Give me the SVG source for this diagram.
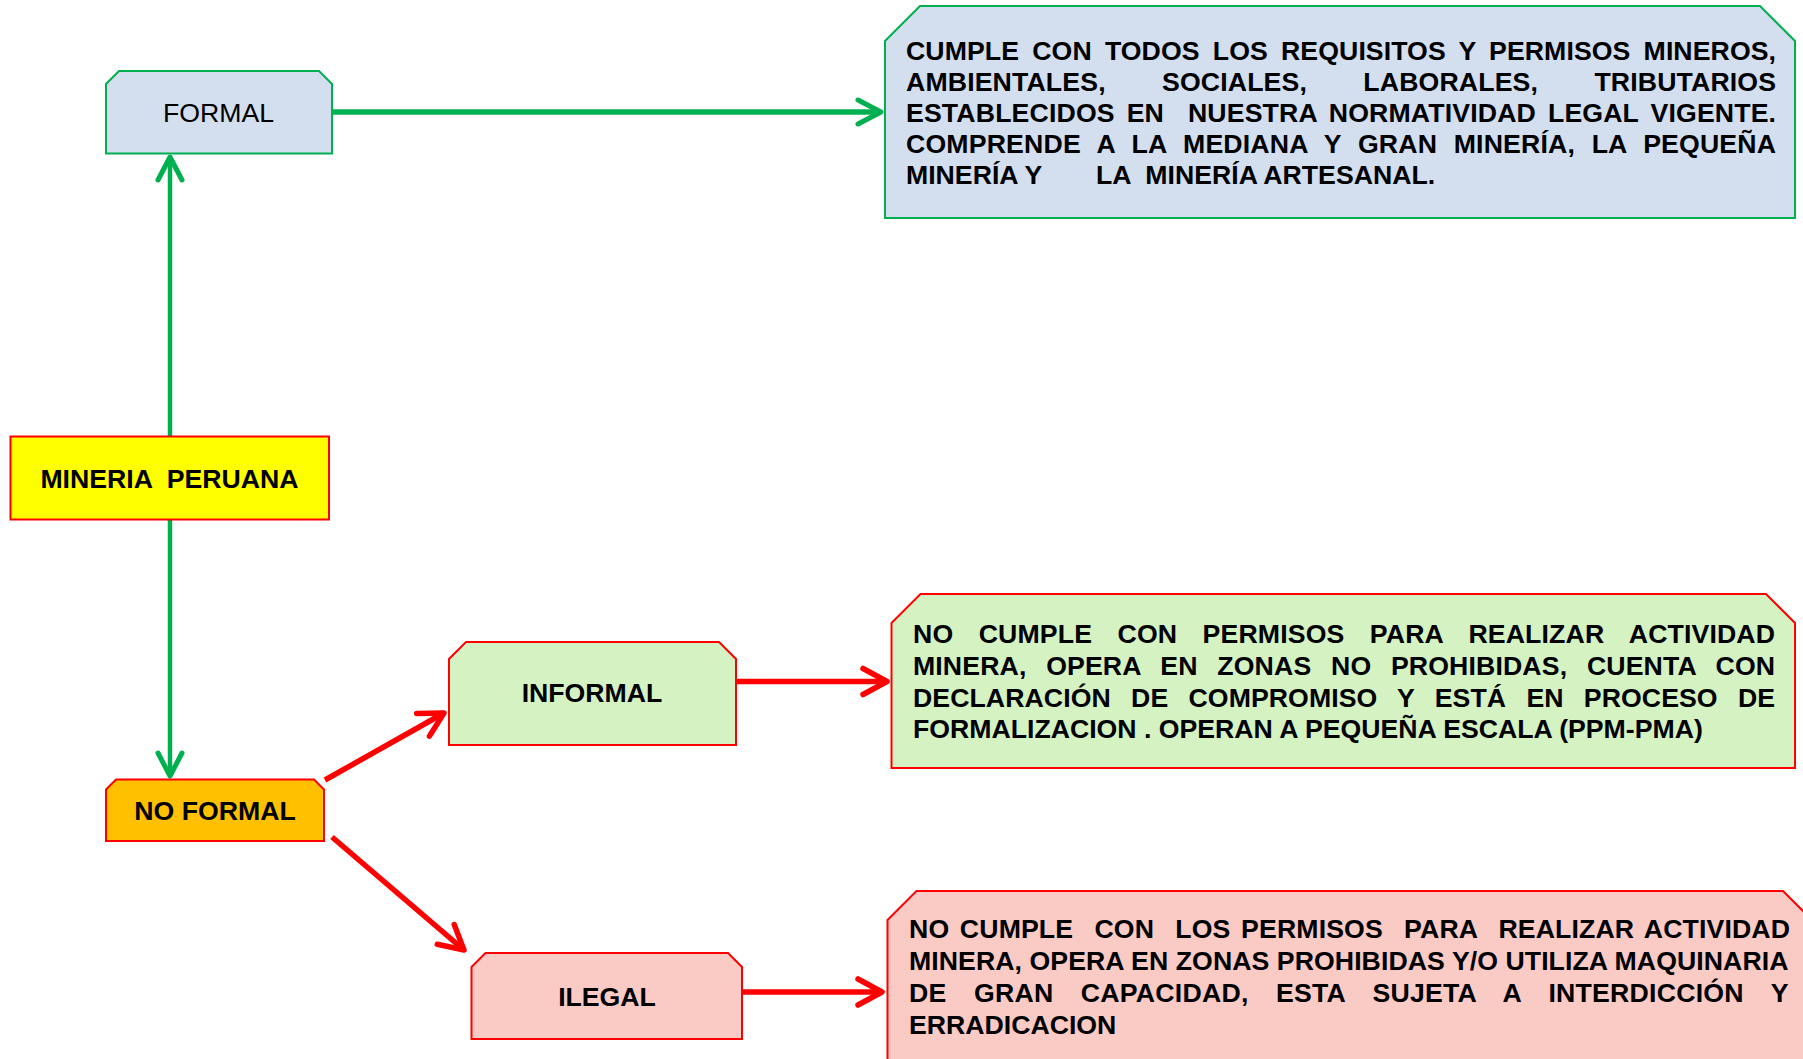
<svg xmlns="http://www.w3.org/2000/svg" width="1803" height="1059" viewBox="0 0 1803 1059">
<style>
.t{font-family:"Liberation Sans",Arial,sans-serif;font-size:26.67px;fill:#000}
.b{font-weight:bold}
.c{text-anchor:middle}
.gs{stroke:#00B050;stroke-width:2}
.rs{stroke:#FF0000;stroke-width:2}
.gl{stroke:#00B050;fill:none}
.rl{stroke:#FF0000;fill:none;stroke-width:5.5}
</style>
<defs>
<marker id="ag" markerUnits="userSpaceOnUse" viewBox="-30 -20 36 40" refX="0" refY="0" markerWidth="36" markerHeight="40" orient="auto" overflow="visible">
<path d="M-23,-12 L0,0 L-23,12" fill="none" stroke="#00B050" stroke-width="5" stroke-linecap="round" stroke-linejoin="round"/>
</marker>
<marker id="ar" markerUnits="userSpaceOnUse" viewBox="-30 -20 36 40" refX="0" refY="0" markerWidth="36" markerHeight="40" orient="auto" overflow="visible">
<path d="M-24,-13 L0,0 L-24,13" fill="none" stroke="#FF0000" stroke-width="5.5" stroke-linecap="round" stroke-linejoin="round"/>
</marker>
</defs>
<rect width="1803" height="1059" fill="#FFFFFF"/>

<g id="connectors">
<path class="gl" stroke-width="4.5" d="M170,436 L170,157" marker-end="url(#ag)"/>
<path class="gl" stroke-width="4.5" d="M170,520 L170,776" marker-end="url(#ag)"/>
<path class="gl" stroke-width="5.5" d="M332,112 L881,112" marker-end="url(#ag)"/>
<path class="rl" d="M325,780 L444,713" marker-end="url(#ar)"/>
<path class="rl" d="M332,837 L464,950" marker-end="url(#ar)"/>
<path class="rl" d="M736,681.5 L887,681.5" marker-end="url(#ar)"/>
<path class="rl" d="M742,992 L882,992" marker-end="url(#ar)"/>
</g>

<g id="node-formal">
<path class="gs" fill="#D3DEEE" d="M106,84 L119,71 L319,71 L332,84 L332,153.5 L106,153.5 Z"/>
<text class="t c" x="218.5" y="121.7">FORMAL</text>
</g>

<g id="node-formal-desc">
<path class="gs" fill="#D3DEEE" d="M885,41 L920,6 L1760,6 L1795,41 L1795,218 L885,218 Z"/>
<text class="t b" x="906" y="59.5" style="word-spacing:5.67px" textLength="870" lengthAdjust="spacing">CUMPLE CON TODOS LOS REQUISITOS Y PERMISOS MINEROS,</text>
<text class="t b" x="906" y="90.7" style="word-spacing:48.8px" textLength="870" lengthAdjust="spacing">AMBIENTALES, SOCIALES, LABORALES, TRIBUTARIOS</text>
<text class="t b" x="906" y="121.9" style="word-spacing:4.4px" textLength="870" lengthAdjust="spacing" xml:space="preserve">ESTABLECIDOS EN  NUESTRA NORMATIVIDAD LEGAL VIGENTE.</text>
<text class="t b" x="906" y="153.1" style="word-spacing:9.05px" textLength="870" lengthAdjust="spacing">COMPRENDE A LA MEDIANA Y GRAN MINERÍA, LA PEQUEÑA</text>
<text class="t b" x="906" y="184.3">MINERÍA Y</text>
<text class="t b" x="1096" y="184.3" xml:space="preserve">LA  MINERÍA ARTESANAL.</text>
</g>

<g id="node-mineria">
<rect class="rs" fill="#FFFF00" x="10.5" y="436.5" width="318.5" height="83"/>
<text class="t b c" x="169.5" y="487.5" xml:space="preserve">MINERIA  PERUANA</text>
</g>

<g id="node-noformal">
<path class="rs" fill="#FFC000" d="M106,789.5 L116,779.5 L314,779.5 L324,789.5 L324,841 L106,841 Z"/>
<text class="t b c" x="215" y="820">NO FORMAL</text>
</g>

<g id="node-informal">
<path class="rs" fill="#D5F2C3" d="M449,659 L466,642 L719,642 L736,659 L736,745 L449,745 Z"/>
<text class="t b c" x="592" y="702">INFORMAL</text>
</g>

<g id="node-informal-desc">
<path class="rs" fill="#D5F2C3" d="M891.5,623 L920.5,594 L1766,594 L1795,623 L1795,768 L891.5,768 Z"/>
<text class="t b" x="913" y="643.3" style="word-spacing:17.9px" textLength="862" lengthAdjust="spacing">NO CUMPLE CON PERMISOS PARA REALIZAR ACTIVIDAD</text>
<text class="t b" x="913" y="675" style="word-spacing:12.16px" textLength="862" lengthAdjust="spacing">MINERA, OPERA EN ZONAS NO PROHIBIDAS, CUENTA CON</text>
<text class="t b" x="913" y="706.7" style="word-spacing:12.8px" textLength="862" lengthAdjust="spacing">DECLARACIÓN DE COMPROMISO Y ESTÁ EN PROCESO DE</text>
<text class="t b" x="913" y="738.3">FORMALIZACION . OPERAN A PEQUEÑA ESCALA (PPM-PMA)</text>
</g>

<g id="node-ilegal">
<path class="rs" fill="#F9CBC4" d="M471.5,967 L485.5,953 L728,953 L742,967 L742,1039 L471.5,1039 Z"/>
<text class="t b c" x="607" y="1006">ILEGAL</text>
</g>

<g id="node-ilegal-desc">
<path class="rs" fill="#F9CBC4" d="M887.5,920 L916.5,891 L1783,891 L1812,920 L1812,1070 L887.5,1070 Z"/>
<text class="t b" x="909" y="938.3" style="word-spacing:3.1px" textLength="881" lengthAdjust="spacing" xml:space="preserve">NO CUMPLE  CON  LOS PERMISOS  PARA  REALIZAR ACTIVIDAD</text>
<text class="t b" x="909" y="970" textLength="879.5" lengthAdjust="spacing">MINERA, OPERA EN ZONAS PROHIBIDAS Y/O UTILIZA MAQUINARIA</text>
<text class="t b" x="909" y="1002.3" style="word-spacing:19.74px" textLength="879.5" lengthAdjust="spacing">DE GRAN CAPACIDAD, ESTA SUJETA A INTERDICCIÓN Y</text>
<text class="t b" x="909" y="1034">ERRADICACION</text>
</g>
</svg>
